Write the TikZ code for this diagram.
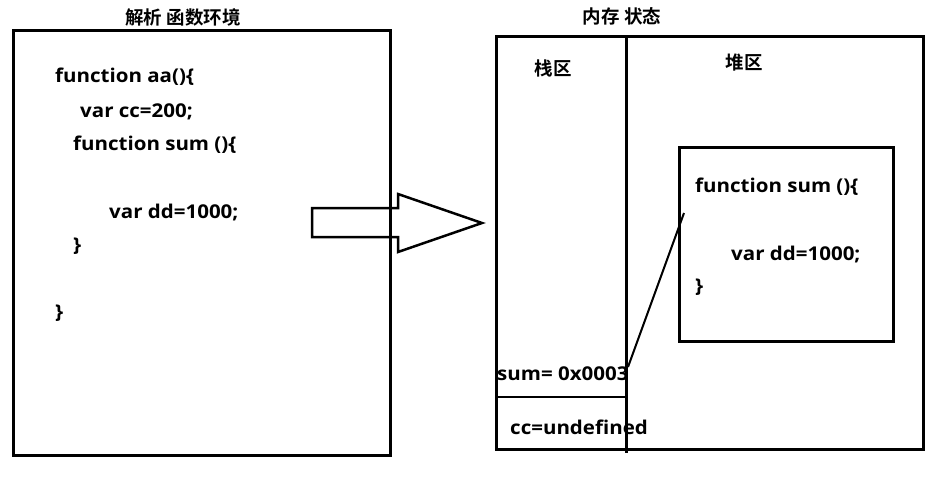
\documentclass[tikz,border=0pt]{standalone}
\usepackage{fontspec}
\setmainfont{Open Sans}[FakeStretch=1.08]
\newfontfamily\cjkfont{Noto Sans CJK SC}[BoldFont={* Bold}]
\begin{document}
\begin{tikzpicture}[x=1pt,y=-1pt,
  box/.style={draw=black,line width=3pt},
  code/.style={anchor=base west,inner sep=0pt,font=\fontsize{19}{21}\selectfont\bfseries},
  ttl/.style={anchor=base,inner sep=0pt,font=\cjkfont\fontsize{18.5}{20}\selectfont\bfseries}]
\useasboundingbox[fill=white] (0,0) rectangle (944,498);
% left box
\draw[box] (13,30) rectangle (390,455);
\node[ttl] (t1) at (183,24) {解析 函数环境};
\node[code] (l1) at (55,82) {function aa()\{};
\node[code] (l2) at (80,117) {var cc=200;};
\node[code] (l3) at (73,150) {function sum ()\{};
\node[code] (l4) at (109,218) {var dd=1000;};
\node[code] (l5) at (73,251) {\}};
\node[code] (l6) at (55,318) {\}};
% big arrow
\draw[line width=2.5pt,line join=miter] (312,208) -- (398,208) -- (398,194) -- (482,223) -- (398,252) -- (398,237) -- (312,237) -- cycle;
% right box
\draw[box] (496,36) rectangle (923,449);
\draw[line width=3pt] (626,36) -- (626,453);
\draw[line width=2.5pt] (496,397) -- (626,397);
\node[ttl] (t2) at (622,23) {内存 状态};
\node[ttl] (stack) at (553,75) {栈区};
\node[ttl] (heap) at (744,69) {堆区};
\node[code] (sumv) at (497,380) {sum= 0x0003};
\node[code] (ccv) at (510,434) {cc=undefined};
% heap object
\draw[box] (679,147) rectangle (893,341);
\node[code] (h1) at (695,192) {function sum ()\{};
\node[code] (h2) at (731,260) {var dd=1000;};
\node[code] (h3) at (695,292) {\}};
\coordinate (ptrA) at (628,367);
\coordinate (ptrB) at (684,213);
\draw[line width=2pt] (ptrA) -- (ptrB);
\end{tikzpicture}
\end{document}
